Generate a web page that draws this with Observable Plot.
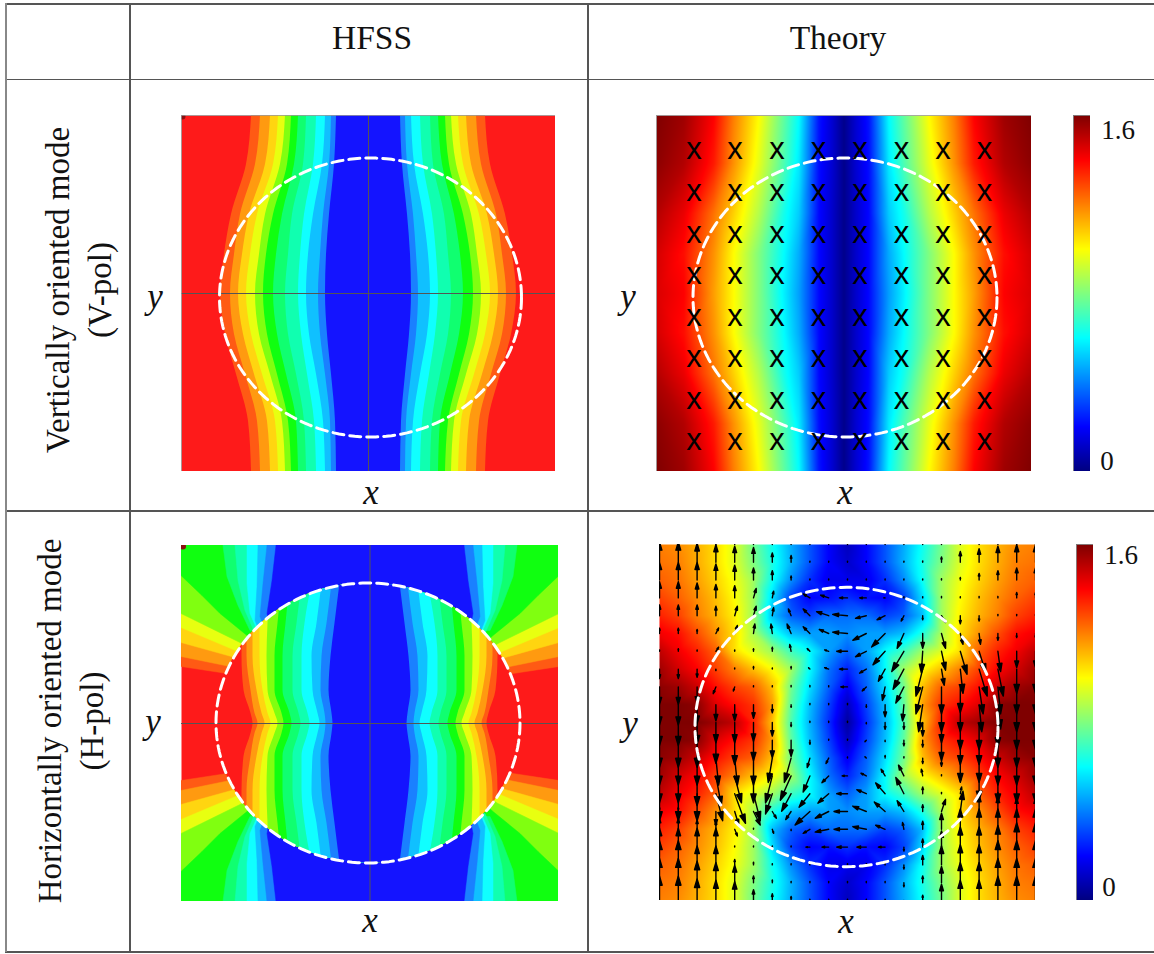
<!DOCTYPE html>
<html><head><meta charset="utf-8">
<script src="https://cdn.jsdelivr.net/npm/d3@7"></script>
<script src="https://cdn.jsdelivr.net/npm/@observablehq/plot@0.6"></script>
<style>
html,body{margin:0;padding:0;background:#fff}
#page{position:relative;width:1154px;height:954px;overflow:hidden;font-family:"Liberation Serif",serif;color:#111}
.ln{position:absolute;background:#555}
.t{position:absolute;white-space:nowrap;transform:translate(-50%,-50%)}
.i{font-style:italic;font-size:35px}
.r{transform:translate(-50%,-50%) rotate(-90deg);font-size:33px}
.n{font-size:27px}
.p{position:absolute}
.p svg{display:block}
</style></head><body><div id="page"></div>
<script>
// ---------- shared ----------
const jetDomain=[0,0.2,0.6,1.0,1.4,1.6];
const jetRange=["#00007f","#0000ff","#00ffff","#ffff00","#ff0000","#7f0000"];
const bandColors=["#ff5a14","#ff9a10","#ffd510","#e8ff10","#80ff10","#10ff10","#10ff70","#10ffb0","#10ffff","#10c0ff","#1a80ff","#1414ff"];
const redBand="#fe1a1a";
const colorbarTicks=["1.6","0"];

// ---------- HFSS V-pol: half-width (px) of each band boundary at each height ----------
const vStations=[-178,-129,-79,-39,0,41,81,128,178];
const vBands=[
[117,122,137,144,148,143,132,120,117],
[108,113,128,134,138,134,123,111,108],
[98,103,119,126,130,125,114,101,98],
[90,95,111,118,122,117,106,93,90],
[83,88,103,109,113,109,98,86,83],
[77,81,95,102,105,101,91,80,77],
[70,74,86,92,95,91,82,72,70],
[62,65,76,80,83,80,72,64,62],
[52,55,64,68,70,67,61,54,52],
[43,46,55,60,62,59,52,45,43],
[37,39,45,48,50,48,43,38,37],
[32,34,39,42,43,41,37,33,32]];

// ---------- HFSS H-pol: outside the circle, boundary polylines of the upper-left quadrant (px) ----------
const hOuter=[
[[-189,-57],[-143,-50],[-113,-37]],
[[-189,-67],[-140,-57],[-110,-43]],
[[-189,-81],[-135,-66],[-107,-50]],
[[-189,-96],[-132,-72],[-103,-57]],
[[-189,-110],[-128,-80],[-100,-63]],
[[-189,-148],[-168,-128],[-150,-110],[-123,-88],[-100,-67]],
[[-147,-178],[-143,-147],[-132,-118],[-120,-93]],
[[-135,-178],[-132,-143],[-125,-113],[-115,-90]],
[[-123,-178],[-123,-140],[-120,-110],[-110,-87]],
[[-112,-178],[-113,-137],[-115,-103],[-107,-83]],
[[-103,-178],[-107,-140],[-110,-107],[-100,-80]],
[[-94,-178],[-98,-143],[-103,-110],[-97,-80]]];
// inside the circle, half-width of each boundary at each height
const hStations=[-140,-100,-67,-33,-10,0,10,33,67,100,140];
const hInner=[
[128,128,128,126,119,117],
[123,123,123,119,115,112],
[117,117,117,113,108,105],
[110,110,110,107,102,99],
[100,102,103,102,95,92],
[88,92,95,95,88,86],
[80,84,87,87,80,78],
[68,73,77,77,71,69],
[58,65,68,68,62,60],
[48,53,58,57,52,50],
[38,43,48,49,45,44],
[30,35,39,41,38,37]];

// ---------- Theory V-pol ----------
const tvCols=[0,12,25,45,60,85,110,130,160,188];
const tvRows=[-178,-130,-80,-40,0,40,80,130,178];
const tvHalf=[
[0.02,0.13,0.23,0.6,0.75,1.0,1.2,1.4,1.55,1.6],
[0.02,0.13,0.22,0.57,0.72,0.96,1.17,1.36,1.52,1.58],
[0.02,0.12,0.21,0.52,0.63,0.88,1.07,1.22,1.43,1.52],
[0.02,0.12,0.21,0.47,0.6,0.8,1.0,1.17,1.38,1.47],
[0.02,0.12,0.21,0.45,0.58,0.8,1.0,1.15,1.4,1.46],
[0.02,0.12,0.21,0.47,0.6,0.8,1.0,1.17,1.38,1.47],
[0.02,0.12,0.21,0.52,0.63,0.88,1.07,1.22,1.43,1.52],
[0.02,0.13,0.22,0.57,0.72,0.96,1.17,1.36,1.52,1.58],
[0.02,0.13,0.23,0.6,0.75,1.0,1.2,1.4,1.55,1.6]];
const crossX=[-150,-109,-67,-25.5,16,57.5,99,140.5];
const crossY=[-141,-99,-57,-16,26,67,109,150];

// ---------- Theory H-pol: magnitude for the upper-left quadrant ----------
const thGrid=[
[1.2,1.18,1.12,1.05,0.95,0.78,0.62,0.47,0.33,0.2,0.1],
[1.22,1.2,1.13,1.05,0.95,0.8,0.64,0.48,0.33,0.2,0.12],
[1.25,1.22,1.15,1.07,0.98,0.85,0.62,0.42,0.27,0.17,0.17],
[1.3,1.25,1.18,1.1,1.0,0.85,0.55,0.3,0.2,0.22,0.27],
[1.35,1.3,1.2,1.12,1.02,0.85,0.5,0.35,0.3,0.37,0.37],
[1.42,1.38,1.28,1.17,1.05,0.87,0.65,0.5,0.45,0.45,0.42],
[1.5,1.42,1.35,1.25,1.05,0.95,0.85,0.7,0.6,0.45,0.35],
[1.55,1.47,1.4,1.3,1.2,1.1,1.0,0.85,0.6,0.38,0.25],
[1.58,1.55,1.48,1.38,1.3,1.25,1.1,0.78,0.55,0.35,0.18],
[1.6,1.6,1.58,1.45,1.38,1.32,1.15,0.75,0.5,0.3,0.1],
[1.6,1.6,1.6,1.55,1.5,1.35,1.1,0.72,0.48,0.27,0.05]];
// arrows: upward component
const quiverV=[
[15,15,14,14,14,12,7,5,1,0,0,0,0,0,4,9,12,14,16,16,15],
[15,15,14,13,12,11,7,5,0,0,0,0,0,0,1,4,8,10,12,13,13],
[13,13,13,12,11,9,7,3,0,0,0,0,0,0,0,1,2,5,7,9,9],
[12,12,11,10,9,7,5,1,3,2,0,0,0,0,0,1,0,1,1,4,4],
[8,8,8,7,7,7,6,5,5,3,1,-2,-3,-4,-3,-5,-6,-4,0,1,1],
[4,4,3,4,6,7,7,7,5,3,1,-5,-10,-11,-11,-11,-8,-8,-5,-3,-3],
[1,2,1,3,1,2,3,5,2,1,0,-4,-10,-15,-16,-14,-17,-16,-15,-12,-12],
[-7,-7,-6,-1,0,2,0,2,1,1,0,-3,-9,-15,-20,-12,-18,-20,-20,-18,-18],
[-13,-13,-12,-5,-3,0,0,1,1,0,0,-3,-10,-12,-20,-20,-19,-20,-20,-20,-20],
[-15,-15,-14,-12,-12,-10,-6,-2,0,0,0,-2,-9,-12,-20,-20,-20,-20,-18,-20,-20],
[-17,-17,-16,-15,-15,-14,-10,-3,0,0,0,-1,-5,-5,-10,-15,-20,-20,-18,-20,-20],
[-20,-20,-20,-17,-18,-15,-13,-12,-3,0,0,-1,-1,-4,-5,-15,-18,-18,-20,-20,-20],
[-20,-20,-20,-20,-20,-20,-18,-18,-7,-4,0,1,2,1,-4,-6,-18,-18,-20,-20,-20],
[-20,-20,-22,-22,-20,-20,-20,-18,-12,-5,0,2,5,8,5,0,-4,-18,-20,-20,-20],
[-20,-20,-20,-20,-22,-20,-15,-13,-10,-7,0,3,8,12,5,1,5,1,0,-5,-5],
[3,3,-5,-10,-10,-10,-5,-6,-10,-5,0,4,7,8,5,9,15,12,11,10,10],
[8,8,7,6,-5,0,-3,-1,-3,-2,0,2,3,5,6,12,15,15,15,15,15],
[14,14,14,14,0,0,0,0,0,0,0,0,0,-3,6,12,15,15,16,18,18],
[18,18,14,14,4,2,0,0,0,0,0,0,0,-3,7,14,15,15,18,18,18],
[18,18,16,15,13,5,2,0,0,0,0,0,0,-3,5,12,15,15,18,18,18],
[18,18,16,15,14,8,5,3,0,0,0,0,0,-1,4,12,15,15,18,18,18]];
// arrows: rightward component
const quiverU=[
[0,0,0,0,0,0,0,0,0,0,0,0,0,0,0,0,0,0,0,0,0],
[0,0,0,0,0,0,0,0,0,0,0,0,0,0,0,0,0,0,0,0,0],
[0,0,0,0,0,0,0,0,0,0,0,0,0,0,0,0,0,0,0,0,0],
[0,0,0,0,0,2,1,0,-5,-6,-6,-5,-1,0,0,0,0,0,0,0,0],
[0,0,0,0,2,2,1,-2,-5,-9,-11,-8,-6,-2,0,3,0,0,0,0,0],
[0,0,0,2,2,1,-1,-3,-5,-7,-11,-10,-10,-5,0,3,2,1,0,0,0],
[0,0,0,2,0,0,0,-1,-2,-3,-8,-8,-9,-9,-1,3,5,5,2,0,0],
[0,0,0,0,0,0,0,0,-1,-3,-6,-5,-5,-8,-5,2,2,6,4,0,0],
[0,0,0,-2,-1,0,0,0,0,0,-5,-3,-2,-6,-5,0,0,3,2,0,0],
[0,0,0,0,0,0,0,0,0,0,0,0,0,-1,-3,0,0,2,2,0,0],
[0,0,0,0,0,0,0,0,0,0,0,0,0,0,0,0,0,0,0,0,0],
[0,0,0,0,0,0,0,0,0,0,0,-1,0,0,0,0,0,0,0,0,0],
[0,0,0,2,2,0,-3,-5,-2,-2,0,-1,0,0,0,0,0,0,0,0,0],
[0,0,0,4,5,0,-5,-8,-5,-5,-4,-4,-3,-4,-1,0,0,0,0,0,0],
[0,0,0,5,8,5,-5,-7,-8,-8,-8,-7,-7,-6,0,0,1,0,0,0,0],
[0,0,0,0,3,5,3,-4,-11,-10,-10,-10,-8,-5,0,3,2,0,0,0,0],
[0,0,0,0,2,0,1,0,-5,-10,-10,-10,-7,-1,0,0,0,0,0,0,0],
[0,0,0,0,0,0,0,0,-3,-5,-8,-7,-5,0,0,0,0,0,0,0,0],
[0,0,0,0,0,0,0,0,0,-1,0,0,0,0,0,0,0,0,0,0,0],
[0,0,0,0,0,0,0,0,0,0,0,0,0,0,0,0,0,0,0,0,0],
[0,0,0,0,0,0,0,0,0,0,0,0,0,0,0,0,0,0,0,0,0]];
const quiverStepX=18.8, quiverStepY=17.8, quiverGain=1.35;

// ---------- page helpers ----------
const page=document.getElementById("page");
function line(l,t,w,h,c){const d=document.createElement("div");d.className="ln";d.style.cssText=`left:${l}px;top:${t}px;width:${w}px;height:${h}px;`+(c?`background:${c}`:"");page.append(d)}
function text(s,x,y,cls,css){const d=document.createElement("div");d.className="t "+(cls||"");d.textContent=s;d.style.left=x+"px";d.style.top=y+"px";if(css)d.style.cssText+=css;page.append(d)}
function place(node,l,t){const d=document.createElement("div");d.className="p";d.style.left=l+"px";d.style.top=t+"px";d.append(node);page.append(d)}
function panel(W,H,marks,extra){return Plot.plot({width:W,height:H,margin:0,style:{background:"transparent"},
  x:{domain:[-W/2,W/2],range:[0,W],axis:null},y:{domain:[-H/2,H/2],range:[0,H],axis:null},marks,...(extra||{})})}
const jet={type:"linear",domain:jetDomain,range:jetRange,clamp:true};
function circlePts(cx,cy,rx,ry){return d3.range(0,361,2).map(a=>({x:cx+rx*Math.cos(a*Math.PI/180),y:cy+ry*Math.sin(a*Math.PI/180)}))}
function circleMark(cx,cy,rx,ry){return Plot.line(circlePts(cx,cy,rx,ry),{x:"x",y:"y",stroke:"#fff",strokeWidth:3,strokeDasharray:"11 6",curve:"linear"})}
function clipEllipse(id,cx,cy,rx,ry){return (index,s,values,dims,ctx,next)=>{
  const g=next(index,s,values,dims,ctx);const ns="http://www.w3.org/2000/svg";
  const c=document.createElementNS(ns,"clipPath");c.id=id;const e=document.createElementNS(ns,"ellipse");
  e.setAttribute("cx",s.x(cx));e.setAttribute("cy",s.y(cy));e.setAttribute("rx",s.x(rx)-s.x(0));e.setAttribute("ry",s.y(ry)-s.y(0));
  c.append(e);g.append(c);g.setAttribute("clip-path",`url(#${id})`);return g}}
function colorbar(){return Plot.plot({width:17,height:356,margin:0,x:{domain:[0,1],range:[0,17],axis:null},y:{domain:[1.6,0],range:[0,356],axis:null},color:jet,
  marks:[Plot.raster({fill:(x,y)=>y,x1:0,x2:1,y1:0,y2:1.6,pixelSize:1}),Plot.frame({stroke:"#777",strokeWidth:.8})]})}

// ---------- table ----------
line(5,3,1149,1.5);line(5,78.5,1149,1.5);line(5,510,1149,1.5);line(5,951,1149,2);
line(5,3,1.5,949,"#888");line(129,3,1.5,949);line(587,3,1.5,949);
text("HFSS",372,38,"","font-size:33.5px");text("Theory",838,38,"","font-size:33.5px");
text("Vertically oriented mode",58,290,"r");text("(V-pol)",100,290,"r");
text("Horizontally oriented mode",50,721,"r");text("(H-pol)",92,721,"r");

// ---------- panel 1: HFSS V-pol ----------
const p1=panel(374,356,[
  Plot.frame({fill:redBand}),
  ...vBands.map((b,i)=>Plot.areaX(vStations.map((y,j)=>({y,d:b[j]})),{y:"y",x1:d=>-d.d,x2:d=>d.d,fill:bandColors[i],curve:"monotone-y"})),
  Plot.ruleX([0],{stroke:"#555",strokeWidth:1}),Plot.ruleY([0],{stroke:"#555",strokeWidth:1.2}),
  Plot.dot([[-186,-177]],{x:d=>d[0],y:d=>d[1],r:3,fill:"#8a0f10"}),
  circleMark(2,4,151,139.5),
  Plot.frame({stroke:"#999",strokeWidth:.8})
]);
place(p1,181,115);
text("x",371,493,"i");text("y",155,297,"i");

// ---------- panel 2: Theory V-pol ----------
const tvPoints=tvRows.flatMap((y,r)=>tvCols.flatMap((c,k)=>{const v=tvHalf[r][k];return c===0?[{x:0,y,v}]:[{x:-c,y,v},{x:c,y,v}]}));
const p2=panel(375,356,[
  Plot.raster(tvPoints,{x:"x",y:"y",fill:"v",interpolate:"barycentric",pixelSize:1}),
  circleMark(1,4,152,139.5),
  Plot.text(crossY.flatMap(y=>crossX.map(x=>({x,y}))),{x:"x",y:"y",text:()=>"x",fontFamily:"Liberation Sans",fontSize:31,fill:"#000",dy:-3,lineAnchor:"middle"}),
  Plot.frame({stroke:"#999",strokeWidth:.8})
],{color:jet});
place(p2,656,115);
place(colorbar(),1073,115);
text("x",845,493,"i");text("y",628,297,"i");
text(colorbarTicks[0],1118,130,"n");text(colorbarTicks[1],1107,461,"n");

// ---------- panel 3: HFSS H-pol ----------
const CX3=-2,CY3=-0.5;
function quadrants(poly){ // close a boundary over its quadrant and mirror it into all four
  const last=poly[poly.length-1],first=poly[0];
  const closed=[...poly,[0,last[1]],[0,-178.5],[first[0],-178.5]];
  return [[1,1],[-1,1],[1,-1],[-1,-1]].map(([a,b])=>closed.map(([x,y])=>({x:a*x,y:b*y})));
}
const p3=panel(377,356,[
  Plot.frame({fill:redBand}),
  ...hOuter.flatMap((poly,i)=>quadrants(poly).map(q=>Plot.line(q,{x:"x",y:"y",fill:bandColors[i],stroke:bandColors[i],strokeWidth:.5,curve:"linear"}))),
  Plot.areaX(hStations.map(y=>({y,d:200})),{y:"y",x1:d=>-d.d,x2:d=>d.d,fill:redBand,render:clipEllipse("c3r",CX3,CY3,152,140)}),
  ...hInner.map((b,i)=>{const row=[...b,...b.slice(0,5).reverse()];
    return Plot.areaX(hStations.map((y,j)=>({y,d:row[j]})),{y:"y",x1:d=>-d.d,x2:d=>d.d,fill:bandColors[i],curve:"monotone-y",render:clipEllipse("c3"+i,CX3,CY3,152,140)})}),
  Plot.ruleX([0],{stroke:"#555",strokeWidth:1}),Plot.ruleY([0],{stroke:"#555",strokeWidth:1.2}),
  Plot.dot([[-187,-177]],{x:d=>d[0],y:d=>d[1],r:3,fill:"#8a0f10"}),
  circleMark(CX3,CY3,152,140)
]);
place(p3,181,545);
text("x",370,921,"i");text("y",153,722,"i");

// ---------- panel 4: Theory H-pol ----------
const thPoints=thGrid.flatMap((row,r)=>row.flatMap((v,c)=>{
  const x=(c-10)*18.8,y=(r-10)*17.8;
  const pts=[{x,y,v}];if(c<10)pts.push({x:-x,y,v});if(r<10)pts.push({x,y:-y,v});if(c<10&&r<10)pts.push({x:-x,y:-y,v});return pts}));
const arrows=quiverV.flatMap((row,r)=>row.map((v,c)=>({x:(c-10)*quiverStepX,y:(r-10)*quiverStepY,u:quiverU[r][c],v})));
const arrowHead={draw(ctx,l){const h=Math.min(l*.4,9),w=h*.3;
  ctx.moveTo(0,0);ctx.lineTo(0,-l);ctx.lineTo(w,-l+h);ctx.lineTo(-w,-l+h);ctx.lineTo(0,-l);}};
const p4=panel(376,356,[
  Plot.raster(thPoints,{x:"x",y:"y",fill:"v",interpolate:"barycentric",pixelSize:1}),
  Plot.vector(arrows,{x:"x",y:"y",anchor:"start",shape:arrowHead,length:{value:d=>Math.max(quiverGain*Math.hypot(d.u,d.v),1.2),scale:null},rotate:d=>Math.atan2(d.u,d.v)*180/Math.PI,fill:"#000",stroke:"#000",strokeWidth:1.4,clip:true}),
  circleMark(-1,4.5,151.5,139.7)
],{color:jet});
place(p4,659,544);
place(colorbar(),1076,544);
text("x",846,922,"i");text("y",630,724,"i");
text(colorbarTicks[0],1121,555,"n");text(colorbarTicks[1],1109,887,"n");
</script></body></html>
